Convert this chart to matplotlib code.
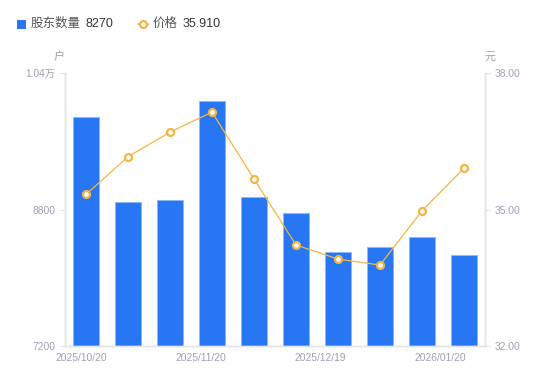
import matplotlib
matplotlib.use("Agg")
import matplotlib.pyplot as plt
import matplotlib.ticker as mticker
from matplotlib.patches import Rectangle
from matplotlib.lines import Line2D
import numpy as np

plt.rcParams['font.family'] = ['Liberation Sans', 'Noto Sans CJK SC', 'DejaVu Sans']

dates = ["2025/10/20", "2025/10/31", "2025/11/10", "2025/11/20", "2025/11/28",
         "2025/12/10", "2025/12/19", "2025/12/31", "2026/01/09", "2026/01/20"]
holders = [9884, 8888, 8911, 10072, 8946, 8759, 8302, 8357, 8474, 8270]
prices = [35.33, 36.16, 36.70, 37.14, 35.67, 34.22, 33.91, 33.78, 34.97, 35.910]
label_dates = ["2025/10/20", "2025/11/20", "2025/12/19", "2026/01/20"]
left_ticks = [7200, 8800, 10400]
left_tick_labels = ["7200", "8800", "1.04万"]
right_ticks = [32.0, 35.0, 38.0]

BLUE = "#2777F5"
ORANGE = "#F6B440"
GRAY = "#9EA1B3"
SPINE = "#E3E4EA"
DARK = "#333333"

fig = plt.figure(figsize=(5.5, 3.81), dpi=100)
ax = fig.add_axes([65/550, 35/381, 420/550, 273/381])
x = np.arange(len(dates))

ax.bar(x, holders, width=0.6, color=BLUE, edgecolor="#8DB5F8", linewidth=0.6, zorder=2)
ax.set_xlim(-0.5, len(dates) - 0.5)
ax.set_ylim(left_ticks[0], left_ticks[-1])
ax.set_yticks(left_ticks)
ax.set_yticklabels(left_tick_labels)

ax2 = ax.twinx()
ax2.plot(x, prices, color=ORANGE, linewidth=0.9, marker="o", markersize=5,
         markerfacecolor="white", markeredgecolor=ORANGE, markeredgewidth=1.6, zorder=3)
ax2.set_ylim(right_ticks[0], right_ticks[-1])
ax2.set_yticks(right_ticks)
ax2.yaxis.set_major_formatter(mticker.FormatStrFormatter("%.2f"))

# x tick labels (evenly spread across the axis, as in reference)
pos = np.linspace(-0.10, 8.43, len(label_dates))
ax.set_xticks(pos)
ax.set_xticklabels(label_dates)

for a in (ax, ax2):
    for s in a.spines.values():
        s.set_color(SPINE)
        s.set_linewidth(1.0)
    a.spines['top'].set_visible(False)
    a.tick_params(axis='y', colors=SPINE, labelcolor=GRAY, labelsize=7.4, length=4, width=0.8, pad=3)
ax.tick_params(axis='x', length=0, labelcolor=GRAY, labelsize=7.4, pad=5)

# axis unit labels
fig.text(59/550, 1 - 57/381, "户", color=GRAY, fontsize=8, ha='center', va='center')
fig.text(490/550, 1 - 57/381, "元", color=GRAY, fontsize=8, ha='center', va='center')

# legend (manual)
ly = 1 - 24/381
fig.patches.append(Rectangle((17/550, ly - 4.5/381), 9/550, 9/381, transform=fig.transFigure,
                             facecolor=BLUE, edgecolor='none'))
fig.text(31/550, ly, "股东数量", color="#555555", fontsize=9, va='center', ha='left')
fig.text(85/550, ly, f"{holders[-1]}", color=DARK, fontsize=9, va='center', ha='left')
fig.lines.append(Line2D([138/550, 148/550], [ly, ly], transform=fig.transFigure, color=ORANGE,
                        linewidth=1.2))
fig.lines.append(Line2D([143/550], [ly], transform=fig.transFigure, color=ORANGE, marker='o',
                        markersize=5, markerfacecolor='white', markeredgewidth=1.6, linestyle='none'))
fig.text(153/550, ly, "价格", color="#555555", fontsize=9, va='center', ha='left')
fig.text(183/550, ly, f"{prices[-1]:.3f}", color=DARK, fontsize=9, va='center', ha='left')

fig.savefig("out.png", dpi=100)
